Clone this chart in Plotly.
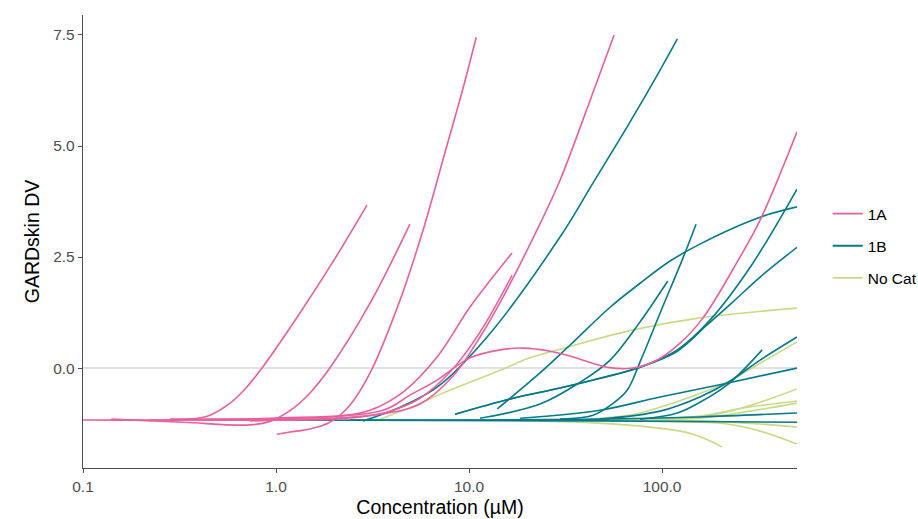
import plotly.graph_objects as go

# ---------------- data (concentration in µM, GARDskin DV) ----------------
# Category 1A
a1_x = [0.1, 0.222, 0.358, 0.455, 0.578, 0.691, 0.846, 1.33, 1.97, 2.96]
a1_y = [-1.17, -1.17, -1.15, -1.06, -0.79, -0.47, 0.00, 1.24, 2.39, 3.67]
a2_x = [0.140, 0.330, 0.733, 0.931, 1.18, 1.50, 1.90, 3.07, 4.94]
a2_y = [-1.15, -1.22, -1.28, -1.20, -0.96, -0.56, 0.00, 1.46, 3.24]
a3_x = [1.01, 1.18, 1.50, 1.90, 2.42, 3.07, 4.39, 5.78, 7.51, 9.20, 10.9]
a3_y = [-1.49, -1.44, -1.37, -1.22, -0.83, -0.11, 1.53, 3.11, 4.86, 6.22, 7.45]
a4_x = [0.282, 1.33, 2.15, 3.07, 4.55, 6.83, 10.1, 16.7]
a4_y = [-1.15, -1.13, -1.08, -0.95, -0.54, 0.25, 1.37, 2.59]
a5_x = [0.282, 1.90, 2.72, 3.90, 5.57, 7.97, 11.4, 16.7]
a5_y = [-1.17, -1.15, -1.10, -0.97, -0.68, -0.09, 0.81, 2.09]
a6_x = [0.733, 3.46, 5.57, 8.26, 11.4, 15.0, 22.5, 29.6, 41.9, 56.4]
a6_y = [-1.19, -1.04, -0.81, -0.18, 0.70, 1.60, 3.11, 4.23, 5.97, 7.50]
a7_x = [0.222, 0.931, 3.58, 4.94, 6.83, 10.1, 14.5, 19.0, 26.3, 34.6, 51.9,
        70.8, 94.2, 124, 163, 248, 322, 500]
a7_y = [-1.17, -1.13, -0.95, -0.61, -0.27, 0.23, 0.41, 0.45, 0.38, 0.25, 0.02,
        0.00, 0.18, 0.56, 1.13, 2.43, 3.33, 5.32]

# Category 1B
b1_x = [2.82, 4.39, 6.83, 12.4, 29.6, 43.9, 65.9, 97.7, 120]
b1_y = [-1.19, -0.88, -0.43, 0.70, 2.95, 4.17, 5.43, 6.71, 7.41]
b2_x = [14.0, 23.3, 33.4, 53.8, 76.9, 110, 157, 233, 350, 500]
b2_y = [-0.92, -0.11, 0.52, 1.37, 1.91, 2.41, 2.79, 3.15, 3.45, 3.63]
b3_x = [8.46, 16.9, 29.6, 47.7, 76.9, 120, 177, 286, 500]
b3_y = [-1.04, -0.68, -0.45, -0.23, 0.02, 0.41, 1.08, 2.27, 4.03]
b4_x = [8.46, 16.9, 29.6, 47.7, 76.9, 120, 171, 233, 322, 500]
b4_y = [-1.04, -0.68, -0.45, -0.23, 0.02, 0.38, 0.97, 1.49, 2.05, 2.72]
b5_x = [11.4, 23.3, 37.6, 53.8, 76.9, 107]
b5_y = [-1.13, -0.81, -0.32, 0.18, 1.04, 1.96]
b6_x = [29.6, 43.9, 55.1, 65.9, 76.9, 97.7, 127, 150]
b6_y = [-1.15, -1.06, -0.81, -0.50, 0.14, 1.24, 2.43, 3.24]
b7_x = [76.9, 120, 157, 220, 330]
b7_y = [-1.15, -1.01, -0.77, -0.36, 0.41]
b8_x = [47.7, 97.7, 157, 220, 322, 500]
b8_y = [-1.15, -0.97, -0.65, -0.32, 0.18, 0.70]
b9_x = [18.4, 47.7, 97.7, 217, 500]
b9_y = [-1.13, -0.95, -0.65, -0.34, 0.00]
b10_x = [2.42, 47.7, 157, 500]
b10_y = [-1.17, -1.15, -1.10, -1.01]
b11_x = [1.01, 47.7, 500]
b11_y = [-1.17, -1.19, -1.22]

# No category
n1_x = [3.46, 5.13, 7.08, 10.1, 14.5, 20.7, 32.2, 70.8, 157, 500]
n1_y = [-1.15, -0.86, -0.59, -0.32, -0.05, 0.23, 0.47, 0.86, 1.13, 1.35]
n2_x = [42.4, 68.3, 97.7, 145, 217, 322, 500]
n2_y = [-1.15, -1.06, -0.88, -0.63, -0.32, 0.11, 0.59]
n3_x = [86.6, 157, 217, 322, 500]
n3_y = [-1.15, -1.10, -0.99, -0.77, -0.47]
n4_x = [47.7, 157, 263, 500]
n4_y = [-1.17, -1.08, -0.90, -0.74]
n5_x = [47.7, 157, 286, 500]
n5_y = [-1.17, -1.13, -0.97, -0.79]
n6_x = [14.5, 157, 322, 500]
n6_y = [-1.17, -1.19, -1.26, -1.33]
n7_x = [26.3, 157, 217, 322, 500]
n7_y = [-1.17, -1.22, -1.26, -1.42, -1.71]
n8_x = [14.5, 46.0, 86.6, 124, 145, 173, 205]
n8_y = [-1.17, -1.24, -1.33, -1.42, -1.49, -1.62, -1.78]

categories = ["1A", "1B", "No Cat"]
colors = {"1A": "#EA5F9C", "1B": "#047A8A", "No Cat": "#C8DB85"}

series = {
    "No Cat": [(n1_x, n1_y), (n2_x, n2_y), (n3_x, n3_y), (n4_x, n4_y),
               (n5_x, n5_y), (n6_x, n6_y), (n7_x, n7_y), (n8_x, n8_y)],
    "1B": [(b11_x, b11_y), (b10_x, b10_y), (b1_x, b1_y), (b2_x, b2_y),
           (b3_x, b3_y), (b4_x, b4_y), (b5_x, b5_y), (b6_x, b6_y),
           (b7_x, b7_y), (b8_x, b8_y), (b9_x, b9_y)],
    "1A": [(a1_x, a1_y), (a2_x, a2_y), (a3_x, a3_y), (a4_x, a4_y),
           (a5_x, a5_y), (a6_x, a6_y), (a7_x, a7_y)],
}

x_ticks = [0.1, 1, 10, 100]
x_tick_labels = ["0.1", "1.0", "10.0", "100.0"]
y_ticks = [0, 2.5, 5, 7.5]
y_tick_labels = ["0.0", "2.5", "5.0", "7.5"]

# ---------------- figure ----------------
FONT = "Liberation Sans, Arial, Helvetica, sans-serif"
fig = go.Figure()

# legend entries first so the groups are listed 1A, 1B, No Cat
for rank, cat in enumerate(categories, start=1):
    fig.add_trace(go.Scatter(
        x=[None], y=[None], mode="lines",
        line=dict(color=colors[cat], width=1.8),
        name=cat, legendgroup=cat, showlegend=True, legendrank=rank,
    ))

draw_order = ["No Cat", "1B", "1A"]
for cat in draw_order:
    for xs, ys in series[cat]:
        fig.add_trace(go.Scatter(
            x=xs, y=ys, mode="lines",
            line=dict(color=colors[cat], width=1.6, shape="spline", smoothing=1.0),
            name=cat, legendgroup=cat, showlegend=False,
            hoverinfo="skip",
        ))

fig.add_shape(type="line", xref="paper", yref="y", x0=0, x1=1, y0=0, y1=0,
              line=dict(color="#D9D9D9", width=1.5), layer="below")

axis_col = "#4D4D4D"
fig.update_layout(
    width=918, height=519,
    margin=dict(l=83, r=121, t=15, b=51, autoexpand=False),
    paper_bgcolor="white", plot_bgcolor="white",
    font=dict(family=FONT, color="#000000"),
    showlegend=True,
    legend=dict(
        x=1.043, y=0.49, xanchor="left", yanchor="middle",
        font=dict(family=FONT, size=15.5, color="#000000"),
        tracegroupgap=9, bgcolor="rgba(0,0,0,0)", borderwidth=0,
        traceorder="grouped",
    ),
    xaxis=dict(
        type="log", range=[-1, 2.699],
        tickvals=x_ticks, ticktext=x_tick_labels,
        showline=True, linecolor=axis_col, linewidth=1.3,
        ticks="outside", ticklen=4, tickwidth=1.3, tickcolor=axis_col,
        tickfont=dict(family=FONT, size=15.5, color=axis_col),
        showgrid=False, zeroline=False,
        title=dict(text="Concentration (µM)", font=dict(family=FONT, size=19.5, color="#000000"),
                   standoff=6),
        automargin=False,
    ),
    yaxis=dict(
        range=[-2.25, 7.95],
        tickvals=y_ticks, ticktext=y_tick_labels,
        showline=True, linecolor=axis_col, linewidth=1.3,
        ticks="outside", ticklen=4, tickwidth=1.3, tickcolor=axis_col,
        tickfont=dict(family=FONT, size=15.5, color=axis_col),
        showgrid=False, zeroline=False,
        title=dict(text="GARDskin DV", font=dict(family=FONT, size=19.5, color="#000000"),
                   standoff=8),
        automargin=False,
    ),
)

fig.write_html("out.html")
